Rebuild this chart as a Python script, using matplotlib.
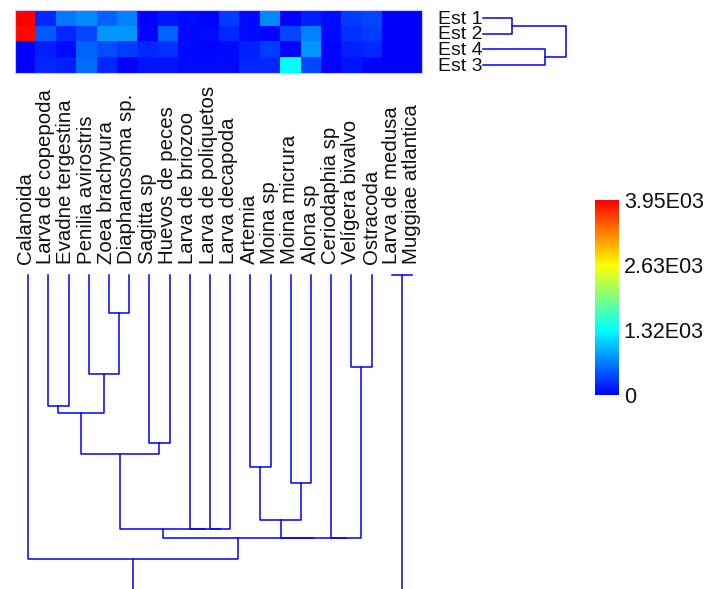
import matplotlib
matplotlib.use("Agg")
import matplotlib.pyplot as plt
import numpy as np
from matplotlib.colors import LinearSegmentedColormap
from matplotlib.transforms import blended_transform_factory

plt.rcParams['font.family'] = ['Liberation Sans', 'DejaVu Sans']

species = ['Calanoida', 'Larva de copepoda', 'Evadne tergestina', 'Penilia avirostris',
           'Zoea brachyura', 'Diaphanosoma sp.', 'Sagitta sp', 'Huevos de peces',
           'Larva de briozoo', 'Larva de poliquetos', 'Larva decapoda', 'Artemia',
           'Moina sp', 'Moina micrura', 'Alona sp', 'Ceriodaphia sp', 'Velígera bivalvo',
           'Ostracoda', 'Larva de medusa', 'Muggiae atlantica']
stations = ['Est 1', 'Est 2', 'Est 4', 'Est 3']

est1 = [3950, 206, 619, 722, 516, 671, 10, 103, 52, 26, 310, 52, 722, 5, 155, 77, 310, 361, 0, 0]
est2 = [3900, 464, 206, 361, 774, 774, 26, 516, 52, 52, 206, 52, 26, 361, 671, 52, 258, 310, 0, 0]
est4 = [0, 155, 52, 516, 413, 310, 206, 258, 52, 26, 52, 155, 310, 26, 774, 26, 155, 206, 0, 0]
est3 = [0, 206, 155, 568, 206, 5, 103, 103, 52, 52, 52, 206, 206, 1320, 361, 26, 103, 26, 0, 0]

# merges: (node a, node b, height); new nodes numbered after the leaves
col_merges = [(4, 5, 0.134), (3, 20, 0.349), (1, 2, 0.461), (22, 21, 0.486),
              (6, 7, 0.592), (23, 24, 0.630), (9, 10, 0.894), (8, 26, 0.894),
              (25, 27, 0.894), (11, 12, 0.676), (13, 14, 0.732), (29, 30, 0.863),
              (16, 17, 0.324), (15, 32, 0.926), (31, 33, 0.926), (28, 34, 0.926),
              (0, 35, 1.0), (18, 19, 0.0), (36, 37, 1.5)]
row_merges = [(0, 1, 0.35), (2, 3, 0.75), (4, 5, 1.0)]

cbar_ticks = [0, 1316.7, 2633.3, 3950]
cbar_labels = ['0', '1.32E03', '2.63E03', '3.95E03']


def dendro_segments(n, merges):
    pos = {i: (float(i), 0.0) for i in range(n)}
    segs = []
    for k, (a, b, h) in enumerate(merges):
        xa, ha = pos[a]
        xb, hb = pos[b]
        segs.append(([xa, xa, xb, xb], [ha, h, h, hb]))
        pos[n + k] = ((xa + xb) / 2, h)
    return segs


W, H = 712, 589
fig = plt.figure(figsize=(W / 100, H / 100), dpi=100)


def px_axes(x0, y0, x1, y1):
    return fig.add_axes([x0 / W, 1 - y1 / H, (x1 - x0) / W, (y1 - y0) / H])


cmap = LinearSegmentedColormap.from_list(
    'bcyr', [(0, '#0000ff'), (1 / 3, '#00ffff'), (2 / 3, '#ffff00'), (1, '#ff0000')])

data = np.array([est1, est2, est4, est3])

ax = px_axes(15, 10, 422, 73)
im = ax.imshow(data, cmap=cmap, vmin=0, vmax=3950, aspect='auto', interpolation='nearest')
ax.set_xticks([])
ax.set_yticks([])
for s in ax.spines.values():
    s.set_color('#c8c8ff')
    s.set_linewidth(0.8)

trans = blended_transform_factory(ax.transData, fig.transFigure)
for i, name in enumerate(species):
    ax.text(i, 1 - 264 / H, name, transform=trans, rotation=90, ha='center',
            va='bottom', fontsize=14.7, color='#111111')

# column dendrogram
axd = px_axes(18, 274, 422, 589)
for xs, ys in dendro_segments(len(species), col_merges):
    axd.plot(xs, ys, color='#0000ff', lw=1.1)
axd.set_xlim(-0.5, len(species) - 0.5)
axd.set_ylim(1.106, -0.0035)
axd.axis('off')

# row dendrogram
axr = px_axes(483, 10, 570, 73)
for xs, ys in dendro_segments(len(stations), row_merges):
    axr.plot(ys, xs, color='#0000ff', lw=1.1, clip_on=False)
axr.set_xlim(0, 1.048)
axr.set_ylim(3.5, -0.5)
axr.axis('off')
for j, name in enumerate(stations):
    axr.text(-0.01, j + 0.08, name, ha='right', va='center', fontsize=14.0, color='#111111')

# colorbar
cax = px_axes(595, 200, 619, 395)
cb = fig.colorbar(im, cax=cax, ticks=cbar_ticks)
cb.ax.set_yticklabels(cbar_labels)
cb.ax.tick_params(length=0, pad=3.5, labelsize=15.5, labelcolor='#111111')
cb.outline.set_visible(False)

fig.savefig('out.png', dpi=100)
